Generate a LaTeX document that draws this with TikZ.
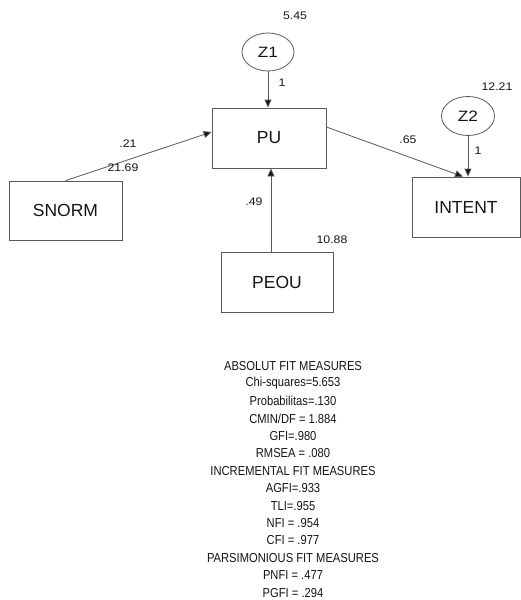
\documentclass[tikz,border=0pt]{standalone}
\usepackage{fontspec}
\setmainfont{Liberation Sans}
\newfontfamily\widefont{Liberation Sans}[FakeStretch=1.12]
\newfontfamily\zfont{Liberation Sans}[FakeStretch=1.15]
\newfontfamily\tallfont{Liberation Sans}[FakeStretch=0.86]
\usetikzlibrary{shapes.geometric,arrows.meta,calc}
\definecolor{ink}{HTML}{151515}
\definecolor{edge}{HTML}{5a5a5a}
\tikzset{
  varbox/.style={draw=edge,line width=0.8pt,rectangle,minimum width=113pt,minimum height=60pt,inner sep=0pt,font=\fontsize{17.5}{20}\selectfont,text=ink},
  errnode/.style={draw=edge,line width=0.8pt,ellipse,minimum width=52pt,minimum height=38pt,inner sep=0pt,font=\zfont\fontsize{15}{17}\selectfont,text=ink},
  pathline/.style={draw=edge,line width=0.8pt,-{Triangle[length=8pt,width=7pt,fill=ink]}},
  est/.style={font=\widefont\fontsize{11}{13}\selectfont,text=ink,inner sep=0pt},
  fitline/.style={font=\tallfont\fontsize{13}{15}\selectfont,text=ink,inner sep=0pt,anchor=center}
}
\begin{document}
\begin{tikzpicture}[x=1pt,y=-1pt]
\useasboundingbox (0,0) rectangle (521,600);
\node[errnode] (Z1) at (268,52) {Z1};
\node[errnode,minimum width=53pt,minimum height=39pt] (Z2) at (468,116) {Z2};
\node[varbox,minimum width=114pt] (PU) at (269,138) {PU};
\node[varbox,minimum width=108pt] (INTENT) at (466,207) {INTENT};
\node[varbox,minimum height=59pt] (SNORM) at (65.5,210.5) {SNORM};
\node[varbox,minimum width=112pt] (PEOU) at (277,282) {PEOU};

\draw[pathline] (Z1.south) -- (Z1.south |- PU.north);
\draw[pathline] (Z2.south) -- (Z2.south |- INTENT.north);
\draw[pathline] (SNORM.north) -- ($(PU.west)+(0,-6)$);
\draw[pathline] ($(PU.east)+(0,-11)$) -- ($(INTENT.north)+(-3,0)$);
\draw[pathline] ($(PEOU.north)+(-6,0)$) -- ($(PU.south)+(2,0)$);

\node[est] (l1) at (295,16) {5.45};
\node[est] (l2) at (282,83) {1};
\node[est] (l3) at (497,87) {12.21};
\node[est] (l4) at (478,151) {1};
\node[est] (l5) at (128,144) {.21};
\node[est] (l6) at (123,168) {21.69};
\node[est] (l7) at (408,140) {.65};
\node[est] (l8) at (254,202) {.49};
\node[est] (l9) at (332,240) {10.88};

\foreach \t [count=\i from 0] in {ABSOLUT FIT MEASURES,Chi-squares=5.653,Probabilitas=.130,CMIN/DF = 1.884,GFI=.980,RMSEA = .080,INCREMENTAL FIT MEASURES,AGFI=.933,TLI=.955,NFI = .954,CFI = .977,PARSIMONIOUS FIT MEASURES,PNFI = .477,PGFI = .294}
  \node[fitline] (f\i) at (293,{366+17.45*\i}) {\t};
\end{tikzpicture}
\end{document}
